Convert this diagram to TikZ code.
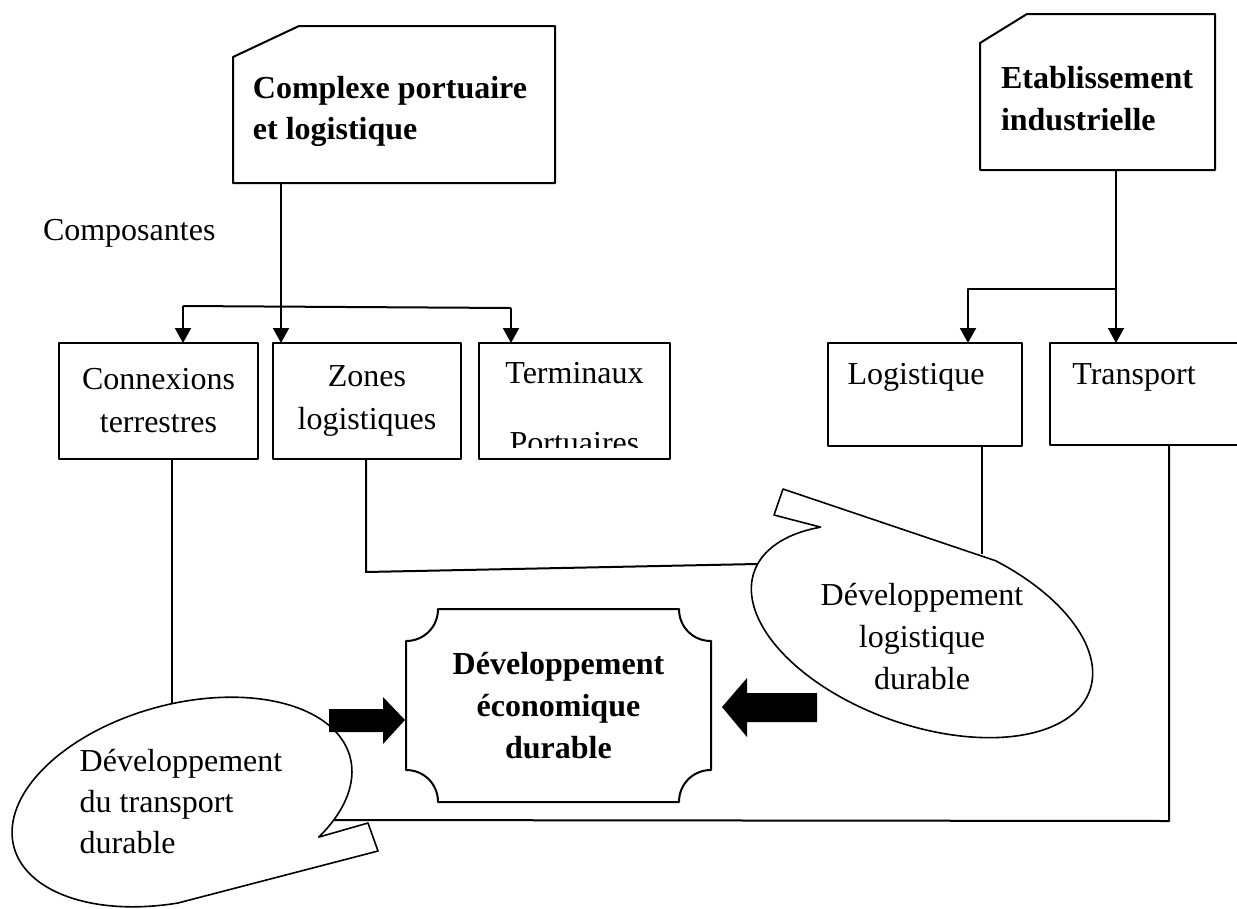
\documentclass[tikz,border=0pt]{standalone}
\usepackage{fontspec}
\setmainfont{Liberation Serif}
\usetikzlibrary{arrows.meta,calc}
\begin{document}
\begin{tikzpicture}[x=1pt, y=-1pt, line width=2pt, line join=round,
    >={Triangle[length=15pt,width=16pt]},
    font=\fontsize{32}{43}\selectfont,
    box/.style={draw, rectangle, outer sep=0pt, inner sep=0pt},
    frame/.style={rectangle, outer sep=0pt, inner sep=0pt},
    txt/.style={align=center, inner sep=0pt},
    head/.style={font=\fontsize{32}{41}\selectfont\bfseries}]
    \useasboundingbox (0,0) rectangle (1237,908);
    \clip (0,0) rectangle (1237,908);
    % ellipse callouts: centre, half axes, tilt
    \def\lcx{922}\def\lcy{631}\def\la{178}\def\lb{94}\def\lth{19.5}
    \def\tcx{182}\def\tcy{802}\def\ta{174}\def\tb{98}\def\tth{-15}
    % top boxes
    \node[frame, minimum width=322pt, minimum height=157pt] (cpl) at (394,104.5) {};
    \draw ($(cpl.north west)+(0,31)$) -- ($(cpl.north west)+(66,0)$) -- (cpl.north east) -- (cpl.south east) -- (cpl.south west) -- cycle;
    \node[txt, head, align=left] (cplt) at (390,111) {Complexe portuaire\\et logistique};
    \node[frame, minimum width=235pt, minimum height=156pt] (etab) at (1097.5,92) {};
    \draw ($(etab.north west)+(0,29)$) -- ($(etab.north west)+(47,0)$) -- (etab.north east) -- (etab.south east) -- (etab.south west) -- cycle;
    \node[txt, align=left, font=\fontsize{32}{42}\selectfont\bfseries] (etabt) at (1097,99) {Etablissement\\industrielle};
    \node[anchor=base west, inner sep=0pt] (comp) at (42,240) {Composantes};
    % composantes
    \node[box, txt, minimum width=199pt, minimum height=116pt] (conn) at (158.5,401) {Connexions\\terrestres};
    \node[box, txt, minimum width=188pt, minimum height=116pt] (zon) at (367,401) {Zones\\logistiques};
    \node[box, minimum width=191pt, minimum height=116pt] (term) at (574.5,401) {};
    \begin{scope}
        \clip (479,343) rectangle (670,447);
        \node[txt] (termt) at (574.5,408.5) {Terminaux\\[27pt]Portuaires};
    \end{scope}
    \node[box, minimum width=194pt, minimum height=103pt] (logb) at (925,394.5) {};
    \node[anchor=base, inner sep=0pt] (logt) at (916,384) {Logistique};
    \node[box, minimum width=200pt, minimum height=102pt] (trp) at (1150,394) {};
    \node[anchor=base, inner sep=0pt] (trpt) at (1134,384) {Transport};
    % arrows from the top boxes
    \coordinate (zin) at (281,343);
    \draw[->] (cpl.south -| zin) -- (zin);
    \coordinate (b1) at (183,306);
    \coordinate (b2) at (511,308);
    \draw[->] (b1) -- (b1 |- conn.north);
    \draw (b1) -- (b2);
    \draw[->] (b2) -- (b2 |- term.north);
    \coordinate (tin) at (1116,343);
    \draw[->] (etab.south -| tin) -- (tin);
    \coordinate (b3) at (1116,289);
    \coordinate (lin) at (968,343);
    \draw[->] (b3) -| (lin);
    % lines down to the callouts
    \coordinate (te) at (172,704);
    \draw (conn.south -| te) -- (te);
    \coordinate (zk) at (366,572);
    \coordinate (le) at (757,564);
    \draw (zon.south -| zk) -- (zk) -- (le);
    \coordinate (lt) at (982,554);
    \draw (logb.south -| lt) -- (lt);
    \coordinate (tk) at (1169,821);
    \coordinate (tr) at (334,820);
    \draw (trp.south -| tk) -- (tk) -- (tr);
    % callouts
    \draw[fill=white, line width=1.6pt] plot[domain=-75:223, samples=120]
        ({\lcx+\la*cos(\x)*cos(\lth)-\lb*sin(\x)*sin(\lth)}, {\lcy+\la*cos(\x)*sin(\lth)+\lb*sin(\x)*cos(\lth)})
        -- (774,515) -- (783,489) -- cycle;
    \draw[fill=white, line width=1.6pt] plot[domain=100:405, samples=120]
        ({\tcx+\ta*cos(\x)*cos(\tth)-\tb*sin(\x)*sin(\tth)}, {\tcy+\ta*cos(\x)*sin(\tth)+\tb*sin(\x)*cos(\tth)})
        -- (368,823) -- (378,851) -- cycle;
    \node[txt, font=\fontsize{32}{42}\selectfont] (ldt) at (922,637) {Développement\\logistique\\durable};
    \node[txt, align=left, font=\fontsize{32}{41}\selectfont] (tdt) at (181,802) {Développement\\du transport\\durable};
    % centre
    \node[frame, txt, font=\fontsize{32}{42}\selectfont\bfseries, minimum width=305pt, minimum height=193pt] (eco) at (558.5,705.5) {Développement\\économique\\durable};
    \draw (438,609) -- (679,609) .. controls (679,627) and (693,641) .. (711,641) -- (711,770)
        .. controls (693,770) and (679,784) .. (679,802) -- (438,802)
        .. controls (438,784) and (424,770) .. (406,770) -- (406,641)
        .. controls (424,641) and (438,627) .. (438,609) -- cycle;
    % block arrows
    \fill (329,709) -- (383,709) -- (383,697) -- (405,720) -- (383,744) -- (383,732) -- (329,732) -- cycle;
    \fill (817,693) -- (747,693) -- (747,678) -- (722,707) -- (747,737) -- (747,722) -- (817,722) -- cycle;
\end{tikzpicture}
\end{document}
